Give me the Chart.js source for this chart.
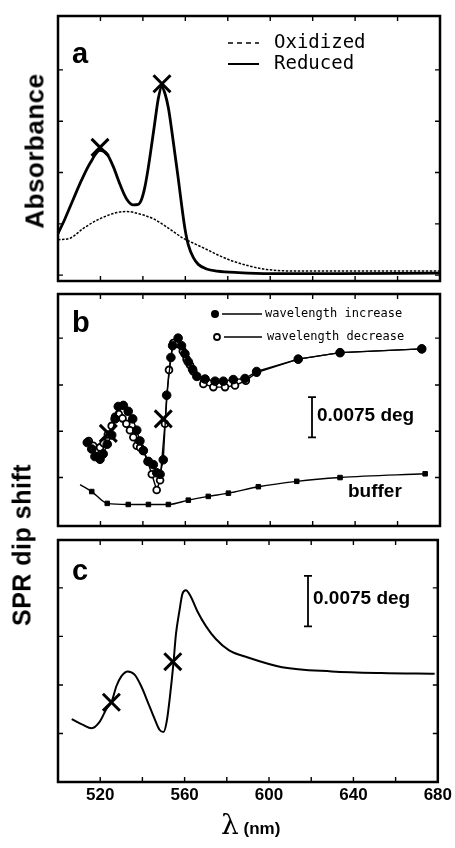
<!DOCTYPE html>
<html>
<head>
<meta charset="utf-8">
<script src="https://cdn.jsdelivr.net/npm/chart.js@4.4.0/dist/chart.umd.min.js"></script>
<style>
  body { margin: 0; background: #fff; width: 455px; height: 848px; position: relative; overflow: hidden; }
  canvas { position: absolute; left: 0; }
  .ytitle { position: absolute; font: bold 25px "Liberation Sans", Arial, sans-serif; letter-spacing: 0.5px;
            transform: translate(-50%, -50%) rotate(-90deg); white-space: nowrap; color: #000; }
  .xtitle { position: absolute; white-space: nowrap; color: #000; }
</style>
</head>
<body>
<canvas id="pa" width="455" height="296" style="top:0px"></canvas>
<canvas id="pb" width="455" height="262" style="top:279px"></canvas>
<canvas id="pc" width="455" height="323" style="top:525px"></canvas>
<div class="ytitle" style="left:35px; top:151px; font-size:26px">Absorbance</div>
<div class="ytitle" style="left:22px; top:545px">SPR dip shift</div>
<div class="xtitle" style="left:221px; top:808px"><span style="font:28px 'DejaVu Serif', serif">λ</span><span style="font:bold 17px 'Liberation Sans', Arial, sans-serif"> (nm)</span></div>
<script>
// ===== data (wavelength in nm) =====
// axis ticks
const xMinorTicks = [520, 540, 560, 580, 600, 620, 640, 660];
const yTicksA = [0, 0.1, 0.2, 0.3, 0.4];
const yTicksB = [9.0, 17.6, 26.2, 34.9];   // mdeg
const yTicksC = [7.2, 14.4, 21.6, 28.8];   // mdeg

// panel a: absorbance
const redNm  = [500, 503.3, 507.2, 511.2, 515.1, 519.8, 523, 526.1, 529.2, 532.4, 535.5, 537.8, 539.4, 541, 542.6, 544.2, 545.7, 547.3, 548.9, 550.4, 552, 553.6, 555.1, 556.7, 558.3, 559.8, 561.4, 563.8, 566.1, 570, 575, 585, 600, 630, 680];
const redVal = [0.081, 0.110, 0.148, 0.186, 0.218, 0.243, 0.237, 0.211, 0.177, 0.148, 0.137, 0.138, 0.148, 0.173, 0.211, 0.256, 0.300, 0.345, 0.367, 0.354, 0.326, 0.282, 0.236, 0.187, 0.135, 0.091, 0.059, 0.034, 0.021, 0.012, 0.008, 0.005, 0.003, 0.003, 0.004];
const oxNm   = [500, 505.7, 511.9, 519.8, 527.7, 532.4, 538.6, 544.9, 551.2, 559, 565, 570.1, 576, 582.6, 590, 598.3, 614, 640, 680];
const oxVal  = [0.069, 0.072, 0.091, 0.110, 0.122, 0.124, 0.119, 0.110, 0.094, 0.072, 0.060, 0.050, 0.038, 0.027, 0.018, 0.011, 0.008, 0.008, 0.008];
const markANm  = [519.8, 549];
const markAVal = [0.249, 0.373];

// panel b: SPR dip shift, measured (mdeg)
const incNm  = [513.8, 515.9, 517.4, 519.8, 521.3, 523.2, 525.3, 526.9, 528.4, 530.8, 533.1, 535.2, 537.1, 538.6, 540.2, 542.6, 544.9, 546.5, 548.1, 549.6, 551.2, 553.2, 554.0, 556.6, 558.2, 559.8, 561.4, 563.4, 565.4, 569.3, 574.0, 577.9, 582.6, 588.1, 593.6, 613.2, 632.9, 671.4];
const incVal = [15.5, 14.3, 12.9, 12.4, 13.4, 15.2, 16.9, 19.9, 22.2, 22.4, 21.3, 19.9, 17.8, 15.8, 14.0, 12.0, 11.4, 9.9, 9.6, 12.3, 24.3, 31.3, 33.5, 34.9, 33.5, 32.0, 30.5, 29.1, 27.8, 27.3, 26.9, 26.9, 27.2, 27.4, 28.7, 31.0, 32.2, 32.9];
const decNm  = [514.5, 516.6, 518.2, 519.8, 521.5, 523.5, 525.3, 526.9, 528.6, 530.4, 532.2, 533.9, 535.5, 537.1, 538.7, 540.2, 542.2, 544.2, 546.5, 548.1, 550.4, 552.3, 554.3, 556.5, 558.8, 560.6, 562.2, 563.8, 568.5, 573.2, 578.7, 583.4, 588.5, 593.6, 613.2, 632.9, 671.4];
const decVal = [15.8, 14.9, 13.0, 14.6, 15.4, 17.0, 18.6, 20.3, 20.8, 20.0, 19.0, 17.8, 16.5, 14.9, 14.6, 14.0, 12.0, 9.6, 6.7, 8.5, 19.0, 29.0, 34.0, 33.8, 32.5, 31.0, 29.9, 28.7, 26.4, 25.8, 25.8, 26.1, 27.0, 28.5, 31.0, 32.2, 32.9];
const bufNm  = [510.4, 515.9, 523.2, 533.1, 542.6, 552.0, 561.4, 570.8, 580.3, 594.4, 612.5, 632.9, 673.0];
const bufVal = [7.7, 6.4, 4.2, 4.0, 4.0, 4.0, 4.8, 5.5, 6.1, 7.3, 8.3, 9.0, 9.7];
const markBNm  = [523.7, 549.6];
const markBVal = [17.2, 19.9];

// panel c: SPR dip shift, calculated (mdeg)
const calcNm  = [506.5, 511.9, 515.9, 519.8, 523, 525.3, 527.7, 530, 533.1, 536.3, 539.4, 542.6, 545.7, 548.1, 550, 551.5, 553.1, 554.7, 555.9, 557.5, 559, 560.6, 563, 566.1, 570.1, 574.8, 581.1, 589, 606.2, 629.7, 653.3, 678.5];
const calcVal = [9.34, 8.47, 7.98, 8.96, 10.87, 11.83, 14.24, 15.68, 16.41, 15.92, 14.24, 11.83, 9.43, 7.75, 7.40, 8.95, 12.80, 17.60, 21.93, 25.30, 27.95, 28.43, 27.46, 25.30, 23.13, 21.21, 19.52, 18.57, 17.03, 16.41, 16.16, 16.06];
const markCNm  = [525.3, 554.4];
const markCVal = [11.83, 17.85];

const BAR_MDEG = 7.5;  // 0.0075 deg

// ===== helpers =====
const pts = (xs, ys) => xs.map((x, i) => ({ x, y: ys[i] }));
const SANS = '"Liberation Sans", Arial, sans-serif';
const MONO = '"DejaVu Sans Mono", monospace';

function markers(xs, ys) {
  return {
    data: pts(xs, ys), showLine: false, pointStyle: 'crossRot', pointRadius: 12,
    pointBorderWidth: 3, pointBorderColor: '#000', pointBackgroundColor: '#000'
  };
}

function scaleBar(ctx, x, y, px, center, label) {
  const t = y.getPixelForValue(center + BAR_MDEG / 2);
  const b = y.getPixelForValue(center - BAR_MDEG / 2);
  ctx.lineWidth = 1.8;
  ctx.beginPath();
  ctx.moveTo(px, t); ctx.lineTo(px, b);
  ctx.moveTo(px - 4, t); ctx.lineTo(px + 4, t);
  ctx.moveTo(px - 4, b); ctx.lineTo(px + 4, b);
  ctx.stroke();
  ctx.font = 'bold 19px ' + SANS;
  ctx.textBaseline = 'middle';
  ctx.fillText(label, px + 5, (t + b) / 2 - 2);
}

// frame, inward ticks, panel letter, extras
const panelDecor = {
  id: 'panelDecor',
  afterDatasetsDraw(chart, args, o) {
    const { ctx, chartArea: a, scales: { x, y } } = chart;
    ctx.save();
    ctx.strokeStyle = '#000';
    ctx.fillStyle = '#000';
    ctx.lineWidth = 2.5;
    ctx.strokeRect(a.left, a.top, a.right - a.left, a.bottom - a.top);
    ctx.lineWidth = 1.4;
    ctx.beginPath();
    xMinorTicks.forEach(v => {
      const px = x.getPixelForValue(v);
      ctx.moveTo(px, a.top); ctx.lineTo(px, a.top + 5);
      ctx.moveTo(px, a.bottom); ctx.lineTo(px, a.bottom - 5);
    });
    o.yTicks.forEach(v => {
      const py = y.getPixelForValue(v);
      ctx.moveTo(a.left, py); ctx.lineTo(a.left + 5, py);
      ctx.moveTo(a.right, py); ctx.lineTo(a.right - 5, py);
    });
    ctx.stroke();
    ctx.font = 'bold 29px ' + SANS;
    ctx.textBaseline = 'alphabetic';
    ctx.fillText(o.letter, a.left + 14, a.top + o.letterY);
    if (o.extra) o.extra(ctx, a, x, y);
    ctx.restore();
  }
};

function makePanel(id, datasets, ymin, ymax, pad, decor, showX) {
  const xScale = { type: 'linear', min: 500, max: 680, display: false };
  if (showX) {
    Object.assign(xScale, {
      display: true,
      grid: { display: false, drawTicks: false },
      border: { display: false },
      afterFit: s => { s.height = 40; },
      ticks: {
        stepSize: 20, autoSkip: false, maxRotation: 0, padding: 3, color: '#000',
        font: { family: SANS, size: 17, weight: 'bold' },
        callback: v => (v % 40 === 0 && v > 500) ? String(v) : ''
      }
    });
  }
  return new Chart(document.getElementById(id), {
    type: 'line',
    data: { datasets },
    options: {
      responsive: false, animation: false, devicePixelRatio: 1, events: [],
      layout: { padding: pad },
      scales: { x: xScale, y: { type: 'linear', min: ymin, max: ymax, display: false } },
      plugins: { legend: { display: false }, tooltip: { enabled: false }, panelDecor: decor }
    },
    plugins: [panelDecor]
  });
}

// ===== panel a =====
makePanel('pa', [
  markers(markANm, markAVal),
  { data: pts(redNm, redVal), borderColor: '#000', borderWidth: 2.8, pointRadius: 0, cubicInterpolationMode: 'monotone' },
  { data: pts(oxNm, oxVal), borderColor: '#000', borderWidth: 1.5, borderDash: [2.5, 1.5], pointRadius: 0, cubicInterpolationMode: 'monotone' }
], -0.0114, 0.505, { left: 58, right: 15, top: 16, bottom: 9 }, {
  letter: 'a', letterY: 47, yTicks: yTicksA,
  extra(ctx, a) {
    ctx.lineWidth = 1.5;
    ctx.setLineDash([5, 4]);
    ctx.beginPath(); ctx.moveTo(a.left + 170, a.top + 27); ctx.lineTo(a.left + 201, a.top + 27); ctx.stroke();
    ctx.setLineDash([]);
    ctx.lineWidth = 2;
    ctx.beginPath(); ctx.moveTo(a.left + 170, a.top + 48); ctx.lineTo(a.left + 201, a.top + 48); ctx.stroke();
    ctx.font = '19px ' + MONO;
    ctx.textBaseline = 'middle';
    ctx.fillText('Oxidized', a.left + 216, a.top + 27);
    ctx.fillText('Reduced', a.left + 216, a.top + 48);
  }
});

// ===== panel b =====
makePanel('pb', [
  markers(markBNm, markBVal),
  { data: pts(incNm, incVal), borderColor: '#000', borderWidth: 1.4, pointRadius: 4.3, pointBorderWidth: 1,
    pointBackgroundColor: '#000', pointBorderColor: '#000', tension: 0 },
  { data: pts(decNm, decVal), borderColor: '#000', borderWidth: 1.4, pointRadius: 3.4, pointBorderWidth: 1.8,
    pointBackgroundColor: '#fff', pointBorderColor: '#000', tension: 0 },
  { data: pts(bufNm, bufVal), borderColor: '#000', borderWidth: 1.4, pointStyle: 'rect',
    pointRadius: bufNm.map((_, i) => i === 0 ? 0 : 3.2), pointBorderWidth: 1,
    pointBackgroundColor: '#000', pointBorderColor: '#000', cubicInterpolationMode: 'monotone' }
], 0, 43.1, { left: 58, right: 15, top: 8, bottom: 8 }, {
  letter: 'b', letterY: 38, yTicks: yTicksB,
  extra(ctx, a, x, y) {
    ctx.lineWidth = 1.3;
    ctx.beginPath(); ctx.arc(a.left + 157, a.top + 20, 4, 0, Math.PI * 2); ctx.fill();
    ctx.beginPath(); ctx.moveTo(a.left + 164, a.top + 20); ctx.lineTo(a.left + 204, a.top + 20); ctx.stroke();
    ctx.lineWidth = 1.8;
    ctx.beginPath(); ctx.arc(a.left + 159, a.top + 43, 3, 0, Math.PI * 2); ctx.stroke();
    ctx.lineWidth = 1.3;
    ctx.beginPath(); ctx.moveTo(a.left + 166, a.top + 43); ctx.lineTo(a.left + 204, a.top + 43); ctx.stroke();
    ctx.font = '12px ' + MONO;
    ctx.textBaseline = 'middle';
    ctx.fillText('wavelength increase', a.left + 207, a.top + 20);
    ctx.fillText('wavelength decrease', a.left + 209, a.top + 43);
    scaleBar(ctx, x, y, a.left + 254, 20.2, '0.0075 deg');
    ctx.font = 'bold 19px ' + SANS;
    ctx.fillText('buffer', a.left + 290, y.getPixelForValue(6.3));
  }
});

// ===== panel c =====
makePanel('pc', [
  markers(markCNm, markCVal),
  { data: pts(calcNm, calcVal), borderColor: '#000', borderWidth: 2, pointRadius: 0, cubicInterpolationMode: 'monotone' }
], 0, 35.9, { left: 58, right: 15, top: 8, bottom: 26 }, {
  letter: 'c', letterY: 40, yTicks: yTicksC,
  extra(ctx, a, x, y) {
    scaleBar(ctx, x, y, a.left + 250, 26.84, '0.0075 deg');
  }
}, true);
</script>
</body>
</html>
